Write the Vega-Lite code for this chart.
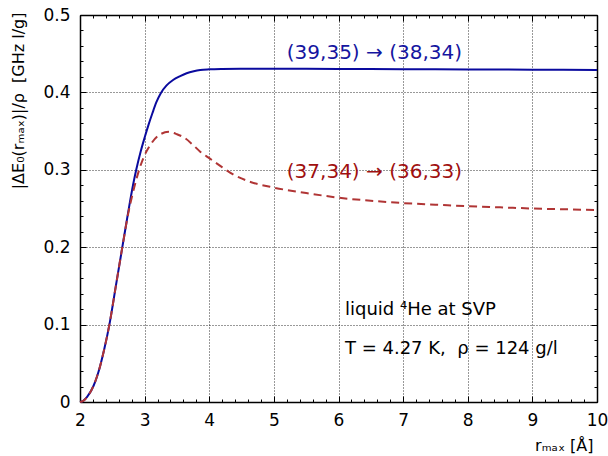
{
  "$schema": "https://vega.github.io/schema/vega-lite/v6.json",
  "width": 517,
  "height": 387,
  "autosize": "none",
  "padding": {"left": 80, "top": 15, "right": 11, "bottom": 54},
  "config": {
    "font": "DejaVu Sans",
    "view": {"stroke": "#000", "strokeWidth": 1},
    "axis": {"labelFont": "DejaVu Sans", "titleFont": "DejaVu Sans", "titleFontWeight": "normal", "tickColor": "#000", "tickWidth": 1, "domainColor": "#000", "domainWidth": 1.5}
  },
  "datasets": {
    "curves": [
      {"r": 2.0, "E": 0.0, "s": "A"}, {"r": 2.05, "E": 0.0015, "s": "A"}, {"r": 2.11, "E": 0.0065, "s": "A"},
      {"r": 2.21, "E": 0.021, "s": "A"}, {"r": 2.31, "E": 0.046, "s": "A"}, {"r": 2.38, "E": 0.07, "s": "A"},
      {"r": 2.455, "E": 0.1, "s": "A"}, {"r": 2.555, "E": 0.15, "s": "A"}, {"r": 2.655, "E": 0.2, "s": "A"},
      {"r": 2.745, "E": 0.245, "s": "A"}, {"r": 2.82, "E": 0.28, "s": "A"}, {"r": 2.87, "E": 0.3, "s": "A"},
      {"r": 2.94, "E": 0.324, "s": "A"}, {"r": 3.005, "E": 0.343, "s": "A"}, {"r": 3.06, "E": 0.358, "s": "A"},
      {"r": 3.12, "E": 0.373, "s": "A"}, {"r": 3.18, "E": 0.387, "s": "A"}, {"r": 3.25, "E": 0.399, "s": "A"},
      {"r": 3.34, "E": 0.409, "s": "A"}, {"r": 3.44, "E": 0.416, "s": "A"}, {"r": 3.55, "E": 0.421, "s": "A"},
      {"r": 3.65, "E": 0.4247, "s": "A"}, {"r": 3.76, "E": 0.4273, "s": "A"}, {"r": 3.86, "E": 0.4289, "s": "A"},
      {"r": 4.0, "E": 0.4298, "s": "A"}, {"r": 4.2, "E": 0.4303, "s": "A"}, {"r": 4.6, "E": 0.4306, "s": "A"},
      {"r": 5.0, "E": 0.4305, "s": "A"}, {"r": 6.0, "E": 0.4303, "s": "A"}, {"r": 7.0, "E": 0.43, "s": "A"},
      {"r": 8.0, "E": 0.4297, "s": "A"}, {"r": 9.0, "E": 0.4294, "s": "A"}, {"r": 10.0, "E": 0.429, "s": "A"},
      {"r": 2.0, "E": 0.0, "s": "B"}, {"r": 2.05, "E": 0.0015, "s": "B"}, {"r": 2.11, "E": 0.0065, "s": "B"},
      {"r": 2.21, "E": 0.021, "s": "B"}, {"r": 2.31, "E": 0.046, "s": "B"}, {"r": 2.38, "E": 0.07, "s": "B"},
      {"r": 2.455, "E": 0.1, "s": "B"}, {"r": 2.555, "E": 0.15, "s": "B"}, {"r": 2.655, "E": 0.2, "s": "B"},
      {"r": 2.745, "E": 0.243, "s": "B"}, {"r": 2.82, "E": 0.271, "s": "B"}, {"r": 2.87, "E": 0.287, "s": "B"},
      {"r": 2.915, "E": 0.3, "s": "B"}, {"r": 2.99, "E": 0.317, "s": "B"}, {"r": 3.08, "E": 0.331, "s": "B"},
      {"r": 3.21, "E": 0.344, "s": "B"}, {"r": 3.37, "E": 0.349, "s": "B"}, {"r": 3.5, "E": 0.346, "s": "B"},
      {"r": 3.63, "E": 0.3406, "s": "B"}, {"r": 3.75, "E": 0.332, "s": "B"}, {"r": 3.86, "E": 0.3234, "s": "B"},
      {"r": 4.0, "E": 0.315, "s": "B"}, {"r": 4.12, "E": 0.308, "s": "B"}, {"r": 4.37, "E": 0.294, "s": "B"},
      {"r": 4.65, "E": 0.284, "s": "B"}, {"r": 4.94, "E": 0.278, "s": "B"}, {"r": 5.5, "E": 0.27, "s": "B"},
      {"r": 6.0, "E": 0.264, "s": "B"}, {"r": 6.5, "E": 0.26, "s": "B"}, {"r": 7.0, "E": 0.257, "s": "B"},
      {"r": 7.5, "E": 0.255, "s": "B"}, {"r": 8.0, "E": 0.253, "s": "B"}, {"r": 8.5, "E": 0.2515, "s": "B"},
      {"r": 9.0, "E": 0.25, "s": "B"}, {"r": 9.5, "E": 0.249, "s": "B"}, {"r": 10.0, "E": 0.248, "s": "B"}
    ],
    "labels": [
      {"r": 5.2, "E": 0.443, "s": "A", "text": "(39,35) → (38,34)"},
      {"r": 5.2, "E": 0.289, "s": "B", "text": "(37,34) → (36,33)"}
    ],
    "notes": [
      {"r": 6.1, "E": 0.1124, "text": "liquid ⁴He at SVP"},
      {"r": 6.1, "E": 0.062, "text": "T = 4.27 K,\u00a0 ρ = 124 g/l"}
    ]
  },
  "layer": [
    {
      "data": {"name": "curves"},
      "transform": [{"filter": "datum.s === 'A'"}],
      "mark": {"type": "line", "strokeWidth": 2, "interpolate": "monotone", "color": "#0a0a9e"},
      "encoding": {
        "x": {
          "field": "r", "type": "quantitative",
          "scale": {"domain": [2, 10], "nice": false, "zero": false},
          "axis": {
            "orient": "bottom",
            "values": [2, 3, 4, 5, 6, 7, 8, 9, 10],
            "labelExpr": "'' + datum.value",
            "labelOverlap": false, "labelFlush": false, "labelBound": false,
            "labelFontSize": 17, "labelColor": "#000", "labelPadding": 16,
            "tickSize": -6,
            "grid": true, "gridColor": "#000", "gridDash": [1, 2], "gridWidth": 1, "gridOpacity": 0.8,
            "title": "rₘₐₓ [Å]", "titleFontSize": 16, "titleColor": "#000",
            "titleX": 513, "titleY": 48, "titleAlign": "right", "titleBaseline": "alphabetic", "titleAnchor": "end"
          }
        },
        "y": {
          "field": "E", "type": "quantitative",
          "scale": {"domain": [0, 0.5], "nice": false},
          "axis": {
            "orient": "left",
            "values": [0, 0.1, 0.2, 0.3, 0.4, 0.5],
            "labelExpr": "'' + datum.value",
            "labelOverlap": false, "labelFlush": false, "labelBound": false,
            "labelFontSize": 17, "labelColor": "#000", "labelPadding": 16,
            "tickSize": -6,
            "grid": true, "gridColor": "#000", "gridDash": [1, 2], "gridWidth": 1, "gridOpacity": 0.8,
            "title": "|ΔE₀(rₘₐₓ)|/ρ\u00a0 [GHz l/g]", "titleFontSize": 16, "titleColor": "#000",
            "titleX": -62, "titleY": -3, "titleAngle": -90, "titleAlign": "right", "titleBaseline": "middle"
          }
        }
      }
    },
    {
      "data": {"name": "curves"},
      "transform": [{"filter": "datum.s === 'B'"}],
      "mark": {"type": "line", "strokeWidth": 2, "interpolate": "monotone", "color": "#b03535", "strokeDash": [8, 5]},
      "encoding": {
        "x": {
          "field": "r", "type": "quantitative",
          "axis": {
            "orient": "bottom",
            "values": [2.2,2.4,2.6,2.8,3.2,3.4,3.6,3.8,4.2,4.4,4.6,4.8,5.2,5.4,5.6,5.8,6.2,6.4,6.6,6.8,7.2,7.4,7.6,7.8,8.2,8.4,8.6,8.8,9.2,9.4,9.6,9.8],
            "labels": false, "grid": false, "domain": false, "title": null, "tickSize": -3
          }
        },
        "y": {
          "field": "E", "type": "quantitative",
          "axis": {
            "orient": "left",
            "values": [0.02,0.04,0.06,0.08,0.12,0.14,0.16,0.18,0.22,0.24,0.26,0.28,0.32,0.34,0.36,0.38,0.42,0.44,0.46,0.48],
            "labels": false, "grid": false, "domain": false, "title": null, "tickSize": -3
          }
        }
      }
    },
    {
      "data": {"name": "labels"},
      "mark": {"type": "text", "align": "left", "baseline": "alphabetic", "fontSize": 20},
      "encoding": {
        "x": {
          "field": "r", "type": "quantitative",
          "axis": {"orient": "top", "values": [2, 3, 4, 5, 6, 7, 8, 9, 10], "labels": false, "grid": false, "title": null, "tickSize": -6}
        },
        "y": {
          "field": "E", "type": "quantitative",
          "axis": {"orient": "right", "values": [0, 0.1, 0.2, 0.3, 0.4, 0.5], "labels": false, "grid": false, "title": null, "tickSize": -6}
        },
        "text": {"field": "text"},
        "color": {"field": "s", "type": "nominal", "scale": {"domain": ["A", "B"], "range": ["#1515a0", "#a01010"]}, "legend": null}
      }
    },
    {
      "data": {"name": "notes"},
      "mark": {"type": "text", "align": "left", "baseline": "alphabetic", "fontSize": 18, "color": "#000"},
      "encoding": {
        "x": {
          "field": "r", "type": "quantitative",
          "axis": {
            "orient": "top",
            "values": [2.2,2.4,2.6,2.8,3.2,3.4,3.6,3.8,4.2,4.4,4.6,4.8,5.2,5.4,5.6,5.8,6.2,6.4,6.6,6.8,7.2,7.4,7.6,7.8,8.2,8.4,8.6,8.8,9.2,9.4,9.6,9.8],
            "labels": false, "grid": false, "domain": false, "title": null, "tickSize": -3
          }
        },
        "y": {
          "field": "E", "type": "quantitative",
          "axis": {
            "orient": "right",
            "values": [0.02,0.04,0.06,0.08,0.12,0.14,0.16,0.18,0.22,0.24,0.26,0.28,0.32,0.34,0.36,0.38,0.42,0.44,0.46,0.48],
            "labels": false, "grid": false, "domain": false, "title": null, "tickSize": -3
          }
        },
        "text": {"field": "text"}
      }
    }
  ],
  "resolve": {"axis": {"x": "independent", "y": "independent"}}
}
